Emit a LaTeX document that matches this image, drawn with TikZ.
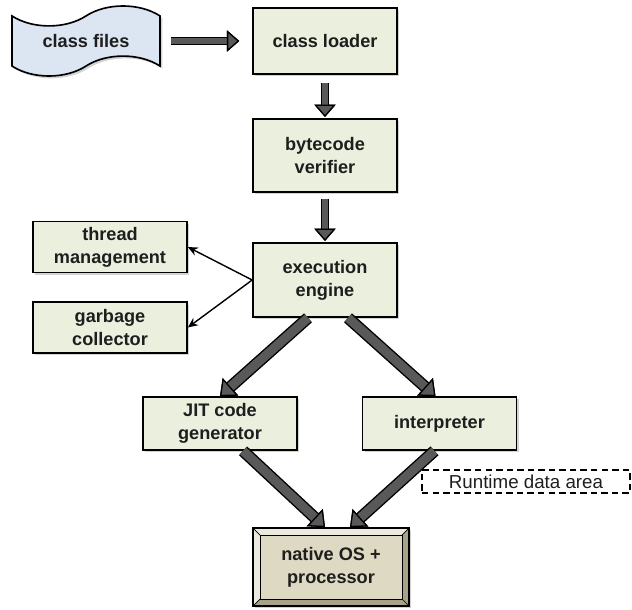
\documentclass[tikz,border=0pt]{standalone}
\usepackage{fontspec}
\setmainfont{Liberation Sans}
\usepackage{tikz}
\usepackage{color}
\usetikzlibrary{arrows,arrows.meta,shapes.symbols,shadows,calc}
\definecolor{boxfill}{HTML}{EBF0DE}
\definecolor{filefill}{HTML}{DCE6F2}
\definecolor{osface}{HTML}{DDD9C3}
\definecolor{oslight}{HTML}{ECEADF}
\definecolor{osdark}{HTML}{A8A28A}
\definecolor{arrgray}{HTML}{595959}
\definecolor{txt}{HTML}{1E1E1E}
\tikzset{
  jvmnode/.style = {align=center, inner sep=0pt, text centered, text=txt,
    font=\bfseries\fontsize{15.5}{19.5}\selectfont},
  jvm_box/.style = {jvmnode, rectangle, draw=black, fill=boxfill,
    line width=1.4pt, minimum width=4.32cm, minimum height=1.98cm,
    drop shadow={shadow xshift=2pt, shadow yshift=-2pt, opacity=.35}},% boite claire
  jvm_side/.style = {jvm_box, minimum width=4.62cm, minimum height=1.52cm},% boite de cote
  jvm_file/.style = {jvmnode, tape, draw=black, fill=filefill,
    line width=1.4pt, minimum width=4.44cm, minimum height=2.1cm,
    tape bend height=17pt,
    drop shadow={shadow xshift=2pt, shadow yshift=-2pt, opacity=.35}},% fichiers
  jvm_os/.style = {jvmnode, rectangle, draw=black, fill=oslight,
    line width=1.4pt, minimum width=4.68cm, minimum height=2.34cm,
    drop shadow={shadow xshift=2pt, shadow yshift=-2pt, opacity=.35},
    path picture={
      \fill[osdark] (path picture bounding box.south west)
        -- (path picture bounding box.south east)
        -- (path picture bounding box.north east)
        -- ([shift={(-6pt,-6pt)}]path picture bounding box.north east)
        -- ([shift={(-6pt,6pt)}]path picture bounding box.south east)
        -- ([shift={(6pt,6pt)}]path picture bounding box.south west) -- cycle;
      \draw[line width=0.8pt, fill=osface]
        ([shift={(6pt,-6pt)}]path picture bounding box.north west) rectangle
        ([shift={(-6pt,6pt)}]path picture bounding box.south east);
      \foreach \c/\s in {north west/{(6pt,-6pt)}, north east/{(-6pt,-6pt)},
                         south west/{(6pt,6pt)}, south east/{(-6pt,6pt)}}
        \draw[line width=0.6pt] (path picture bounding box.\c)
          -- ([shift=\s]path picture bounding box.\c);
    }},% OS en relief
  jvm_note/.style = {align=center, inner sep=0pt, text=txt, draw=black,
    dashed, dash pattern=on 5.5pt off 3.5pt, line width=1.1pt,
    font=\fontsize{16}{19}\selectfont,
    minimum width=6.24cm, minimum height=0.69cm},% zone pointillee
  mid_arr/.style = {draw=arrgray, line width=5pt,
    -{Triangle[width=18pt, length=10.5pt, color=black, fill=arrgray, line width=1.1pt]},
    preaction={draw=black, line width=7.4pt}},
  fat_arr/.style = {draw=arrgray, line width=7.8pt,
    -{Triangle[width=20pt, length=12pt, color=black, fill=arrgray, line width=1.1pt]},
    preaction={draw=black, line width=10.2pt}},
  thin_arr/.style = {->, draw=black, line width=1.2pt}
}

\begin{document}
\begin{tikzpicture}[>={Stealth[length=8.5pt, width=7.5pt]}, x=0.03cm, y=-0.03cm]
\useasboundingbox (0,0) rectangle (632,610);

\node [jvm_file] (files) at (86,41) {class files};
\node [jvm_box] (loader) at (325,41) {class loader};
\node [jvm_box, minimum height=2.19cm] (verifier) at (325,155.5) {bytecode\\verifier};
\node [jvm_box, minimum height=2.22cm] (engine) at (325,280) {execution\\engine};
\node [jvm_side] (thread) at (110,247) {thread\\management};
\node [jvm_side] (garbage) at (110,327.5) {garbage\\collector};
\node [jvm_side, minimum height=1.59cm] (jit) at (220,423.5) {JIT code\\generator};
\node [jvm_side, minimum height=1.59cm] (interp) at (439.5,423.5) {interpreter};
\node [jvm_os] (os) at (331,567) {native OS +\\processor};
\node [jvm_note] (rt) at (526,481.5) {Runtime data area};

% chargement
\draw[mid_arr, shorten <=8.5pt, shorten >=11pt] (files.east) -- (loader.west);
\draw[mid_arr, shorten <=7pt, shorten >=1pt] (loader.south) -- (verifier.north);
\draw[mid_arr, shorten <=5pt, shorten >=1pt] (verifier.south) -- (engine.north);

% services
\draw[thin_arr] (engine.west) -- (thread.east);
\draw[thin_arr] (engine.west) -- (garbage.east);

% execution
\draw[fat_arr] ($(engine.south)+(-17,0)$) -- (jit.north);
\draw[fat_arr] ($(engine.south)+(23,0)$) -- ($(interp.north)+(-4,0)$);
\draw[fat_arr] ($(jit.south)+(23,0)$) -- ($(os.north)+(-6,0)$);
\draw[fat_arr] ($(interp.south)+(-5,0)$) -- ($(os.north)+(19,0)$);
\end{tikzpicture}
\end{document}
